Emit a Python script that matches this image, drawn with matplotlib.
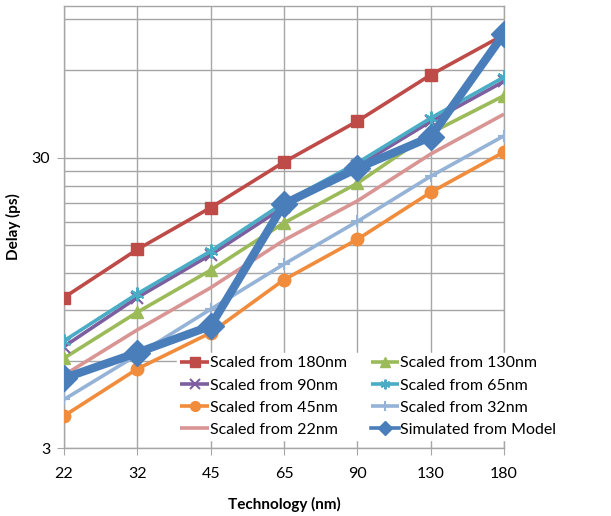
import matplotlib
matplotlib.use("Agg")
import matplotlib.pyplot as plt
from matplotlib.ticker import FixedLocator, NullFormatter, FixedFormatter

plt.rcParams['font.family'] = ['Lato', 'DejaVu Sans']

technology = ["22", "32", "45", "65", "90", "130", "180"]

scaled_180 = [9.9, 14.5, 20.2, 29.0, 40.1, 57.9, 79.6]
scaled_130 = [6.12, 8.81, 12.3, 17.9, 24.5, 36.5, 49.1]
scaled_90 = [6.71, 9.9, 13.9, 20.3, 28.1, 40.0, 55.0]
scaled_65 = [7.02, 10.2, 14.3, 21.0, 28.8, 41.1, 56.9]
scaled_45 = [3.87, 5.62, 7.48, 11.4, 15.7, 22.8, 31.4]
scaled_32 = [4.41, 6.28, 9.02, 12.9, 18.1, 25.9, 35.7]
scaled_22 = [5.35, 7.66, 10.7, 15.6, 21.3, 30.9, 42.4]
simulated = [5.22, 6.39, 7.9, 20.8, 27.6, 35.4, 80.3]

y_major = [3, 30]
y_minor = [6, 9, 12, 15, 18, 21, 24, 27, 60, 90]

fig = plt.figure(figsize=(6.11, 5.16), dpi=100)
ax = fig.add_axes([64/611, 1-448/516, (504-64)/611, (448-6)/516])

x = list(range(len(technology)))

series = [
    ("Scaled from 180nm", scaled_180, "#BE4B48", "s", 9),
    ("Scaled from 130nm", scaled_130, "#9BBB59", "^", 9),
    ("Scaled from 90nm", scaled_90, "#7D5FA0", "x", 8),
    ("Scaled from 65nm", scaled_65, "#4BACC6", (6, 2, 0), 10),
    ("Scaled from 45nm", scaled_45, "#F08C3C", "o", 9),
    ("Scaled from 32nm", scaled_32, "#95B3D7", "+", 9),
    ("Scaled from 22nm", scaled_22, "#D99594", None, 0),
]

handles = {}
for name, vals, col, mk, ms in series:
    h, = ax.plot(x, vals, color=col, lw=2.6, marker=mk, markersize=ms,
                 markeredgewidth=1.5 if mk in ("x", "+", (6, 2, 0)) else 1.0,
                 markeredgecolor=col, markerfacecolor=col, zorder=3,
                 solid_capstyle='butt')
    handles[name] = h

h, = ax.plot(x, simulated, color="#4A7EBB", lw=6, marker="D", markersize=13,
             markerfacecolor="#4A7EBB", markeredgecolor="#4A7EBB", zorder=4,
             solid_joinstyle='round')
handles["Simulated from Model"] = h

ax.set_yscale('log')
ax.set_ylim(3, 100)
ax.set_xlim(0, 6)
ax.yaxis.set_major_locator(FixedLocator(y_major))
ax.yaxis.set_major_formatter(FixedFormatter([str(v) for v in y_major]))
ax.yaxis.set_minor_locator(FixedLocator(y_minor))
ax.yaxis.set_minor_formatter(NullFormatter())
ax.set_xticks(x)
ax.set_xticklabels(technology)

ax.grid(True, which='both', axis='y', color='#A6A6A6', lw=1.0)
ax.grid(True, which='major', axis='x', color='#A6A6A6', lw=1.0)
ax.set_axisbelow(True)
for s in ax.spines.values():
    s.set_color('#A6A6A6')
    s.set_linewidth(1.0)
ax.tick_params(axis='x', which='major', length=5, color='#A6A6A6', pad=9, labelsize=11.5)
ax.tick_params(axis='y', which='major', length=5, color='#A6A6A6', pad=5, labelsize=11.5)
ax.tick_params(axis='y', which='minor', length=0)

ax.set_xlabel("Technology (nm)", fontsize=11, fontweight='bold')
ax.xaxis.set_label_coords(0.5, -0.11)
ax.set_ylabel("Delay (ps)", fontsize=11, fontweight='bold')
ax.yaxis.set_label_coords(-0.098, 0.5)

order = ["Scaled from 180nm", "Scaled from 90nm", "Scaled from 45nm", "Scaled from 22nm",
         "Scaled from 130nm", "Scaled from 65nm", "Scaled from 32nm", "Simulated from Model"]
leg = fig.legend([handles[n] for n in order], order, ncol=2,
                 loc='upper left', bbox_to_anchor=(177/611, 1-353/516),
                 frameon=True, fontsize=11.5, handlelength=1.8, handletextpad=0.05,
                 columnspacing=1.5, labelspacing=0.5, borderpad=0.2,
                 borderaxespad=0)
leg.get_frame().set_facecolor('white')
leg.get_frame().set_edgecolor('white')
leg.get_frame().set_alpha(1)
leg.get_frame().set_boxstyle('square', pad=0)
for lh in leg.legend_handles:
    lh.set_linewidth(2.6)
    lh.set_markersize(7)

fig.savefig("out.png", dpi=100)
